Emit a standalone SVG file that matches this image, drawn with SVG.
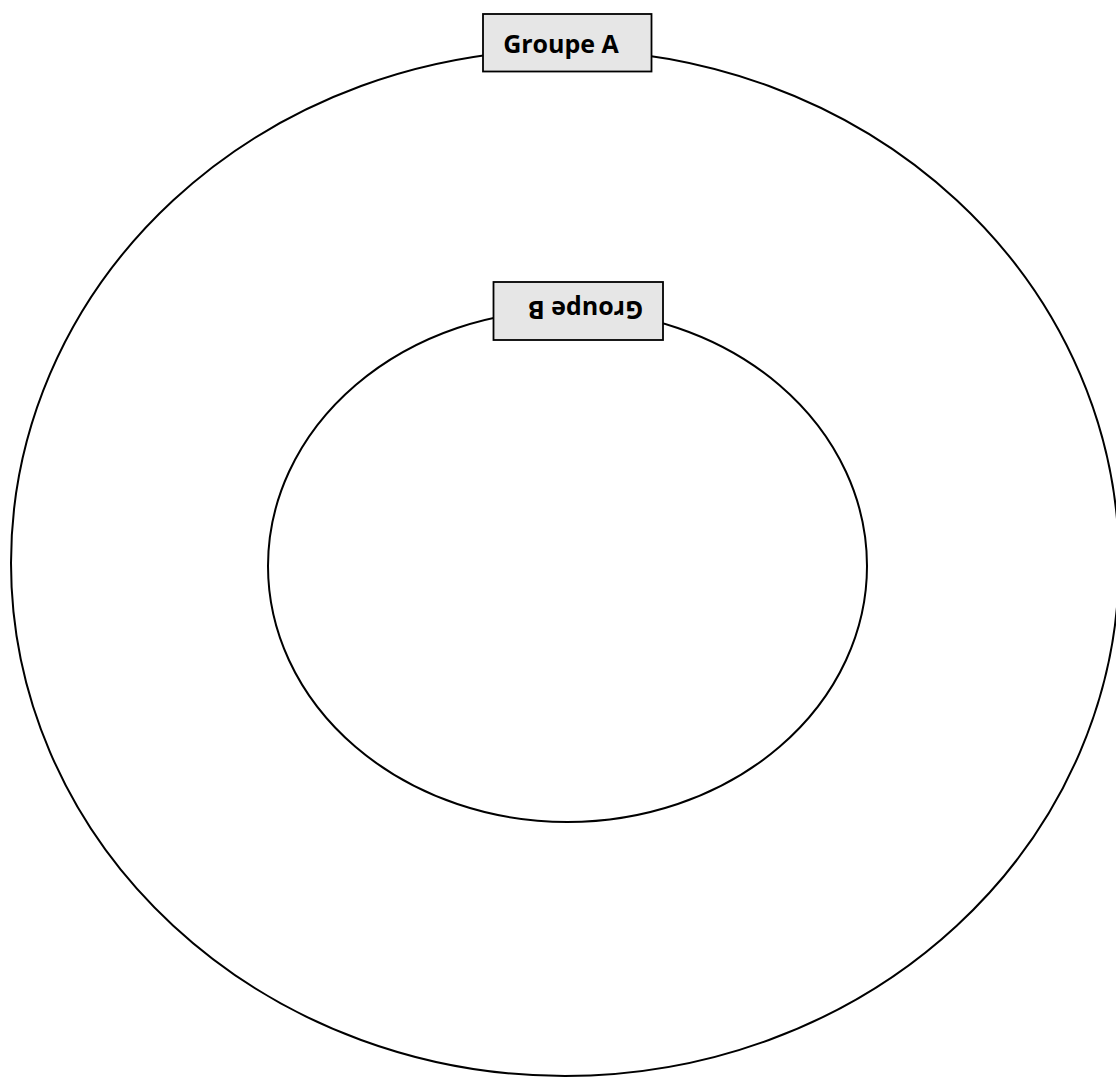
<svg xmlns="http://www.w3.org/2000/svg" width="1116" height="1077" viewBox="0 0 1116 1077">
<style>
.ring{fill:none;stroke:#000;stroke-width:2}
.box{fill:#e6e6e6;stroke:#000;stroke-width:1.8}
.lbl{font-family:"Open Sans","Liberation Sans",sans-serif;font-weight:bold;font-size:25px;fill:#000;text-anchor:middle}
</style>
<rect width="1116" height="1077" fill="#fff"/>
<g id="groupe-a">
<ellipse class="ring" cx="565" cy="563" rx="554" ry="513"/>
<rect class="box" x="483" y="14" width="168.5" height="57.5"/>
<text class="lbl" x="561" y="52.5">Groupe A</text>
</g>
<g id="groupe-b">
<ellipse class="ring" cx="567.5" cy="566" rx="299.5" ry="256"/>
<rect class="box" x="493.5" y="282" width="169.5" height="58"/>
<text class="lbl" x="585.5" y="320" transform="rotate(180 585.5 310.5)">Groupe B</text>
</g>
<g id="connectors"/>
</svg>
